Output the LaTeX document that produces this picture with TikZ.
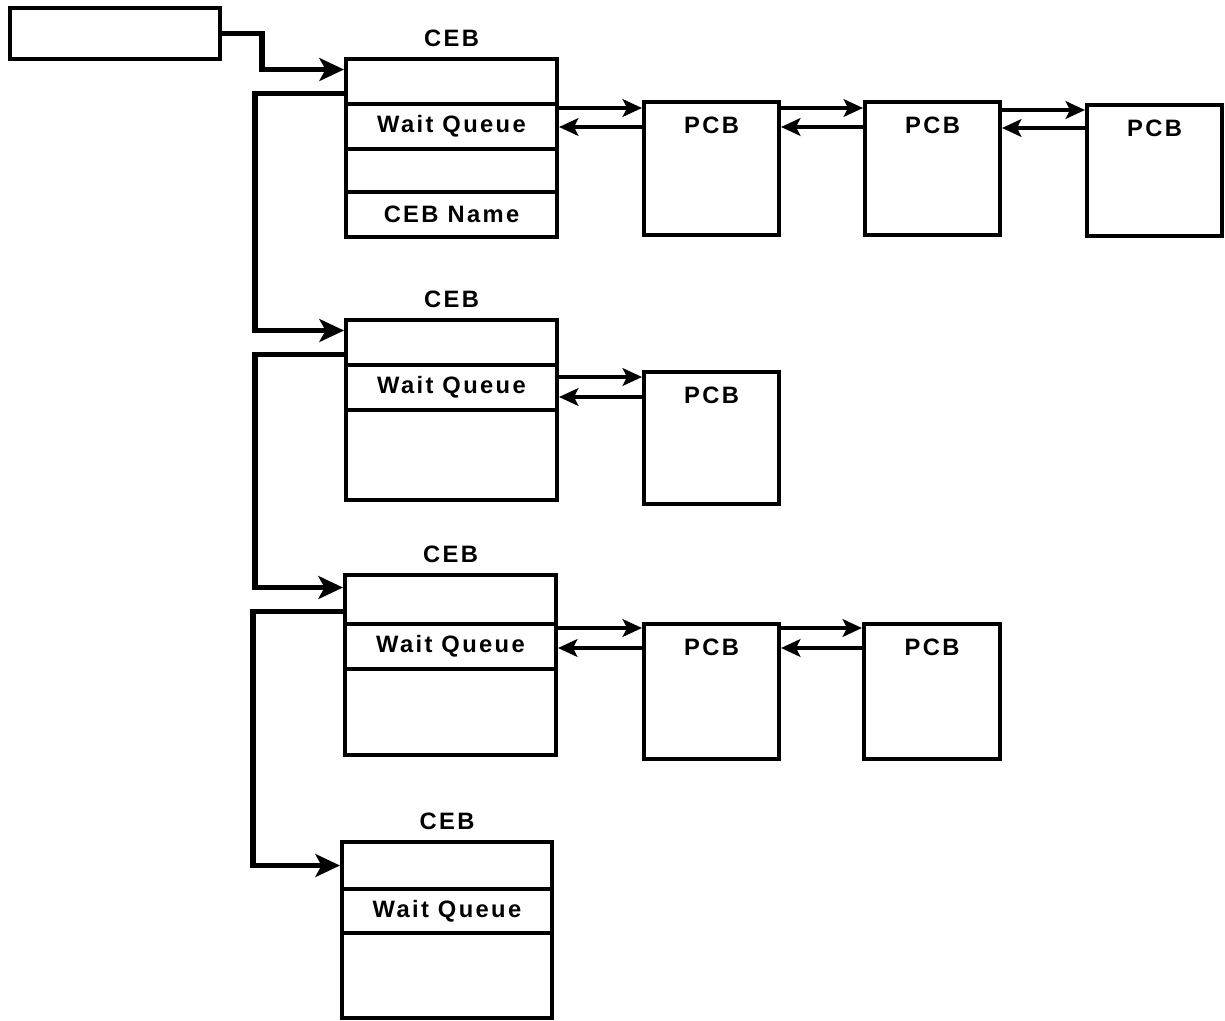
\documentclass[tikz,border=0pt]{standalone}
\usepackage{fontspec}
\newfontfamily\cebfont{Liberation Sans}[LetterSpace=10]
\usetikzlibrary{arrows.meta}
\begin{document}
\begin{tikzpicture}[x=0.02cm,y=-0.02cm,
  every node/.style={font=\cebfont\bfseries\fontsize{13.5}{16}\selectfont},
  fld/.style={draw,line width=2.3pt,anchor=north west,inner sep=0pt,
    minimum width=4.22cm,minimum height=0.9cm},
  pcb/.style={draw,line width=2.3pt,anchor=north west,inner sep=0pt,
    minimum width=2.7cm,minimum height=2.7cm},
  link/.style={line width=3pt,-{Stealth[length=14pt,width=13pt,inset=3.5pt]}},
  ptr/.style={line width=2.2pt,-{Stealth[length=11pt,width=10pt,inset=2.5pt]}}]
  \useasboundingbox (0,0) rectangle (1225,1021);
  % head pointer
  \node[fld,minimum width=4.2cm,minimum height=1.02cm] (head) at (8,6) {};
  % first CEB
  \node[fld] (ceb1a) at (344,57) {};
  \node[fld] (ceb1q) at (344,102) {Wait Queue};
  \node[fld,minimum height=0.86cm] (ceb1c) at (344,147) {};
  \node[fld] (ceb1n) at (344,190) {CEB Name};
  \node[above=0.08cm] (ceb1l) at (ceb1a.north) {CEB};
  % second CEB
  \node[fld] (ceb2a) at (344,318) {};
  \node[fld] (ceb2q) at (344,363) {Wait Queue};
  \node[fld,minimum height=1.8cm] (ceb2r) at (344,408) {};
  \node[above=0.08cm] (ceb2l) at (ceb2a.north) {CEB};
  % third CEB
  \node[fld,minimum height=0.98cm] (ceb3a) at (343,573) {};
  \node[fld] (ceb3q) at (343,622) {Wait Queue};
  \node[fld,minimum height=1.72cm] (ceb3r) at (343,667) {};
  \node[above=0.08cm] (ceb3l) at (ceb3a.north) {CEB};
  % fourth CEB
  \node[fld,minimum width=4.2cm,minimum height=0.94cm] (ceb4a) at (340,840) {};
  \node[fld,minimum width=4.2cm,minimum height=0.88cm] (ceb4q) at (340,887) {Wait Queue};
  \node[fld,minimum width=4.2cm,minimum height=1.7cm] (ceb4r) at (340,931) {};
  \node[above=0.08cm] (ceb4l) at (ceb4a.north) {CEB};
  % PCBs
  \node[pcb,minimum height=2.66cm] (p11) at (642,100) {};
  \node[pcb,minimum height=2.66cm] (p12) at (863,100) {};
  \node[pcb,minimum height=2.62cm] (p13) at (1085,103) {};
  \node[pcb,minimum height=2.64cm] (p21) at (642,370) {};
  \node[pcb] (p31) at (642,622) {};
  \node[pcb,minimum width=2.72cm] (p32) at (862,622) {};
  \foreach \p in {p11,p12,p13,p21,p31,p32}
    \node[below=0.22cm] (\p l) at (\p.north) {PCB};
  % CEB chain
  \draw[link] (head.east) -- ++(40,0) |- ([yshift=0.24cm]ceb1a.west);
  \draw[link] ([yshift=-0.24cm]ceb1a.west) -- ++(-89,0) |- ([yshift=0.24cm]ceb2a.west);
  \draw[link] ([yshift=-0.24cm]ceb2a.west) -- ++(-89,0) |- ([yshift=0.24cm]ceb3a.west);
  \draw[link] ([yshift=-0.24cm]ceb3a.west) -- ++(-90,0) |- (ceb4a.west);
  % wait queues
  \draw[ptr] (ceb1q.east |- 0,108) -- (p11.west |- 0,108);
  \draw[ptr] (p11.west |- 0,127) -- (ceb1q.east |- 0,127);
  \draw[ptr] (p11.east |- 0,108) -- (p12.west |- 0,108);
  \draw[ptr] (p12.west |- 0,127) -- (p11.east |- 0,127);
  \draw[ptr] (p12.east |- 0,110) -- (p13.west |- 0,110);
  \draw[ptr] (p13.west |- 0,128) -- (p12.east |- 0,128);
  \draw[ptr] (ceb2q.east |- 0,377) -- (p21.west |- 0,377);
  \draw[ptr] (p21.west |- 0,397) -- (ceb2q.east |- 0,397);
  \draw[ptr] (ceb3q.east |- 0,628) -- (p31.west |- 0,628);
  \draw[ptr] (p31.west |- 0,648) -- (ceb3q.east |- 0,648);
  \draw[ptr] (p31.east |- 0,628) -- (p32.west |- 0,628);
  \draw[ptr] (p32.west |- 0,648) -- (p31.east |- 0,648);
\end{tikzpicture}
\end{document}
